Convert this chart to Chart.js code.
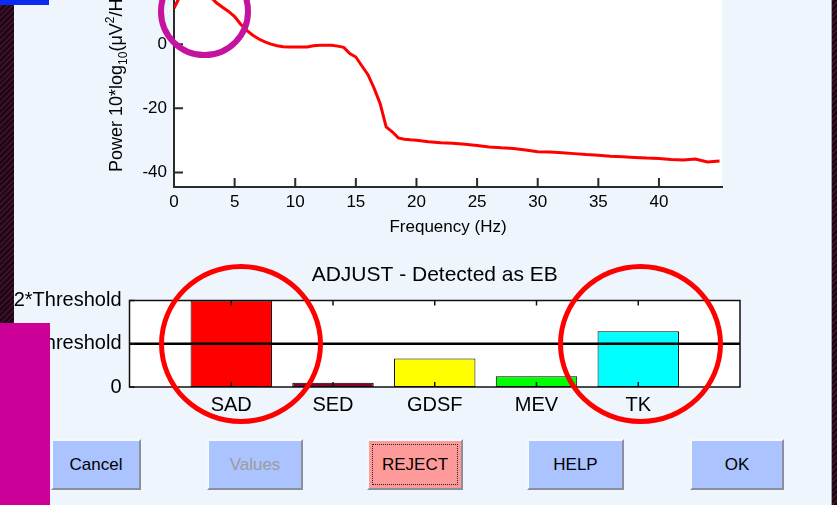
<!DOCTYPE html>
<html>
<head>
<meta charset="utf-8">
<script src="https://cdn.jsdelivr.net/npm/chart.js@4.4.1/dist/chart.umd.min.js"></script>
<style>
  html, body { margin: 0; padding: 0; }
  body {
    width: 837px; height: 505px; overflow: hidden; position: relative;
    background: #eef5fd; font-family: 'Liberation Sans', Arial, sans-serif;
  }
  canvas { position: absolute; left: 0; }
  #spectrum { top: -40px; }
  #bars { top: 255px; }
  .btn {
    position: absolute; top: 439px; height: 51px; box-sizing: border-box;
    background: #abc3ff; border-top: 2px solid #f4f8ff; border-left: 2px solid #f4f8ff;
    border-right: 2px solid #8a8f9a; border-bottom: 2px solid #8a8f9a;
    display: flex; align-items: center; justify-content: center;
    font-size: 17px; color: #000;
  }
  .deco { position: absolute; box-sizing: border-box; }
  .ring { border-radius: 50%; }
  .strip { background: repeating-linear-gradient(135deg, #3d1029 0 2px, #1b0711 2px 4px); }
</style>
</head>
<body>
<canvas id="spectrum" width="760" height="290"></canvas>
<canvas id="bars" width="837" height="170"></canvas>

<div class="btn" style="left:51px;width:90px;">Cancel</div>
<div class="btn" style="left:207px;width:96px;color:#9c9c9c;">Values</div>
<div class="btn" style="left:367px;width:96px;background:#ff9a9a;outline:1.5px dotted #222;outline-offset:-6px;">REJECT</div>
<div class="btn" style="left:527px;width:97px;">HELP</div>
<div class="btn" style="left:690px;width:94px;">OK</div>

<div class="deco strip" style="left:0;top:0;width:14px;height:505px;"></div>
<div class="deco strip" style="left:831px;top:0;width:6px;height:505px;border-left:1px solid #a0a0a8;"></div>
<div class="deco" style="left:0;top:0;width:49px;height:5px;background:#0b2cf0;"></div>
<div class="deco" style="left:0;top:323px;width:50px;height:182px;background:#cc0099;"></div>
<div class="deco ring" style="left:158px;top:-35px;width:93px;height:93px;border:6px solid #c3139f;"></div>
<div class="deco ring" style="left:159px;top:264px;width:164px;height:160px;border:5px solid #ff0000;"></div>
<div class="deco ring" style="left:558px;top:264px;width:165px;height:160px;border:5px solid #ff0000;"></div>

<script>
// power spectrum (top plot)
const freqs = [0, 0.5, 1, 1.5, 2, 2.5, 3, 3.5, 4, 4.5, 5, 5.5, 6, 6.5, 7, 7.5, 8, 8.5, 9, 9.5,
  10, 10.5, 11, 11.5, 12, 12.5, 13, 13.5, 14, 14.5, 15, 15.5, 16, 16.5, 17, 17.5, 18, 18.5, 19, 19.5,
  20, 21, 22, 23, 24, 25, 26, 27, 28, 29, 30, 31, 32, 33, 34, 35, 36, 37, 38, 39, 40, 41, 42, 43, 44, 45];
const power = [11.2, 15.0, 16.2, 16.8, 17.0, 16.4, 14.8, 12.9, 11.5, 10.2, 8.6, 6.2, 4.3, 2.8, 1.6, 0.7, 0.0, -0.5, -0.8, -0.9,
  -0.9, -0.9, -0.9, -0.5, -0.3, -0.3, -0.3, -0.6, -1.0, -2.9, -4.0, -6.8, -9.5, -13.7, -18.5, -25.8, -27.3, -29.2, -29.6, -29.8,
  -29.9, -30.4, -30.7, -30.9, -31.2, -31.6, -32.0, -32.3, -32.5, -33.0, -33.5, -33.6, -33.8, -34.1, -34.4, -34.6, -34.9, -35.1, -35.3, -35.5,
  -35.6, -35.9, -36.1, -35.8, -36.7, -36.4];
const freqTicks = [0, 5, 10, 15, 20, 25, 30, 35, 40];
const powerTicks = [-40, -20, 0];

// ADJUST feature bars (bottom plot)
const features = ['SAD', 'SED', 'GDSF', 'MEV', 'TK'];
const featureValues = [2.0, 0.1, 0.66, 0.25, 1.29];
const featureColors = ['#ff0000', '#88002e', '#ffff00', '#00ff00', '#00ffff'];
const threshold = 1;
const thresholdTicks = [0, 1, 2];
const thresholdLabels = ['0', 'Threshold', '2*Threshold'];

Chart.defaults.font.family = "'Liberation Sans', Arial, sans-serif";
Chart.defaults.color = '#000';

const whiteArea = {
  id: 'whiteArea',
  beforeDraw(chart) {
    const a = chart.chartArea;
    chart.ctx.save();
    chart.ctx.fillStyle = '#fff';
    chart.ctx.fillRect(a.left, a.top, a.width, a.height);
    chart.ctx.restore();
  }
};

// MATLAB style ticks pointing into the axes
const innerTicks = {
  id: 'innerTicks',
  afterDatasetsDraw(chart, args, opts) {
    const { ctx, chartArea: a, scales: { x, y } } = chart;
    ctx.save();
    ctx.strokeStyle = opts.color;
    ctx.lineWidth = opts.width;
    ctx.beginPath();
    x.ticks.forEach(t => {
      const px = x.getPixelForValue(t.value);
      ctx.moveTo(px, a.bottom); ctx.lineTo(px, a.bottom - opts.len);
      if (opts.box) { ctx.moveTo(px, a.top); ctx.lineTo(px, a.top + opts.len); }
    });
    y.ticks.forEach(t => {
      const py = y.getPixelForValue(t.value);
      ctx.moveTo(a.left, py); ctx.lineTo(a.left + opts.len, py);
    });
    ctx.stroke();
    if (opts.box) {
      ctx.lineWidth = opts.frame;
      ctx.strokeRect(a.left, a.top, a.width, a.height);
    }
    ctx.restore();
  }
};

// y label with real sub/superscripts, drawn rotated from the bottom up
const powerLabel = {
  id: 'powerLabel',
  afterDraw(chart, args, opts) {
    const ctx = chart.ctx;
    const parts = [
      ['Power 10*log', 18, 0], ['10', 12, 5], ['(\u03bcV', 18, 0], ['2', 12, -8], ['/Hz)', 18, 0]
    ];
    ctx.save();
    ctx.translate(opts.x, opts.y);
    ctx.rotate(-Math.PI / 2);
    ctx.fillStyle = '#000';
    ctx.textBaseline = 'alphabetic';
    let pos = 0;
    parts.forEach(([txt, size, shift]) => {
      ctx.font = size + "px 'Liberation Sans', Arial, sans-serif";
      ctx.fillText(txt, pos, shift);
      pos += ctx.measureText(txt).width;
    });
    ctx.restore();
  }
};

new Chart(document.getElementById('spectrum'), {
  type: 'line',
  data: {
    datasets: [{
      data: freqs.map((f, i) => ({ x: f, y: power[i] })),
      borderColor: '#ff0000',
      borderWidth: 3,
      pointRadius: 0,
      tension: 0
    }]
  },
  options: {
    responsive: false,
    animation: false,
    layout: { padding: { top: 20, right: 38, bottom: 0, left: 0 } },
    plugins: {
      legend: { display: false },
      tooltip: { enabled: false },
      innerTicks: { color: '#2a2a2a', width: 2, len: 9 },
      powerLabel: { x: 122, y: 212 }
    },
    scales: {
      x: {
        type: 'linear', min: 0, max: 45.2,
        afterBuildTicks: s => { s.ticks = freqTicks.map(v => ({ value: v })); },
        afterFit: s => { s.height = 63; },
        grid: { display: false, drawTicks: false },
        border: { display: true, color: '#2a2a2a', width: 2 },
        ticks: { font: { size: 17 }, padding: 5, maxRotation: 0, autoSkip: false },
        title: { display: true, text: 'Frequency (Hz)', font: { size: 17 }, padding: { top: 0, bottom: 12 } }
      },
      y: {
        type: 'linear', min: -44.5, max: 20,
        afterBuildTicks: s => { s.ticks = powerTicks.map(v => ({ value: v })); },
        afterFit: s => { s.width = 174; },
        grid: { display: false, drawTicks: false },
        border: { display: true, color: '#2a2a2a', width: 2 },
        ticks: { font: { size: 17 }, padding: 7 }
      }
    }
  },
  plugins: [whiteArea, innerTicks, powerLabel]
});

new Chart(document.getElementById('bars'), {
  type: 'bar',
  data: {
    datasets: [{
      type: 'line',
      data: [{ x: 0, y: threshold }, { x: features.length + 1, y: threshold }],
      borderColor: '#000',
      borderWidth: 2.5,
      pointRadius: 0,
      order: 0
    }, {
      data: features.map((f, i) => ({ x: i + 1, y: featureValues[i] })),
      backgroundColor: featureColors,
      borderColor: '#000',
      borderWidth: 1,
      borderSkipped: false,
      categoryPercentage: 1,
      barPercentage: 0.8,
      order: 1
    }]
  },
  options: {
    responsive: false,
    animation: false,
    layout: { padding: { top: 0, right: 97, bottom: 0, left: 0 } },
    plugins: {
      legend: { display: false },
      tooltip: { enabled: false },
      title: {
        display: true, text: 'ADJUST - Detected as EB', fullSize: false,
        font: { size: 21, weight: 'normal' }, color: '#000',
        padding: { top: 8, bottom: 12.3 }
      },
      innerTicks: { color: '#111', width: 1.5, len: 5, box: true, frame: 1.5 }
    },
    scales: {
      x: {
        type: 'linear', min: 0, max: features.length + 1, offset: false,
        afterBuildTicks: s => { s.ticks = features.map((f, i) => ({ value: i + 1 })); },
        afterFit: s => { s.height = 38; },
        grid: { display: false, drawTicks: false, offset: false },
        border: { display: false },
        ticks: { font: { size: 20 }, padding: 6, autoSkip: false, maxRotation: 0,
          callback: v => features[v - 1] }
      },
      y: {
        type: 'linear', min: 0, max: 2,
        afterBuildTicks: s => { s.ticks = thresholdTicks.map(v => ({ value: v })); },
        afterFit: s => { s.width = 129.5; },
        grid: { display: false, drawTicks: false },
        border: { display: false },
        ticks: { font: { size: 20 }, padding: 8,
          callback: v => thresholdLabels[thresholdTicks.indexOf(v)] }
      }
    }
  },
  plugins: [whiteArea, innerTicks]
});
</script>
</body>
</html>
